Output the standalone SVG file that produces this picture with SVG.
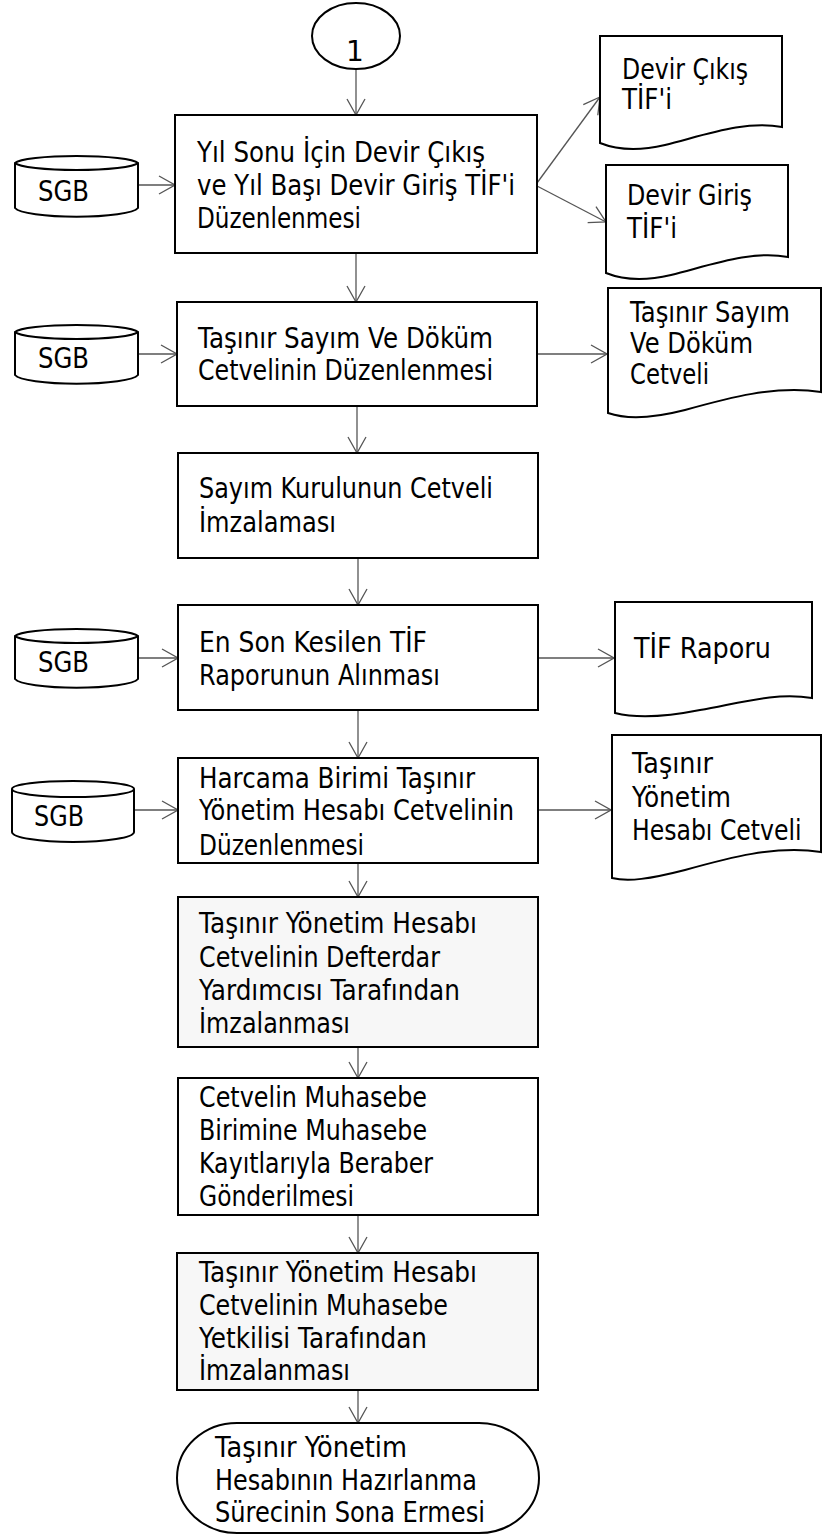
<svg xmlns="http://www.w3.org/2000/svg" width="822" height="1535" viewBox="0 0 822 1535">
<style>
.shape{fill:#ffffff;stroke:#000000;stroke-width:2}
.shade{fill:#f7f7f7;stroke:#000000;stroke-width:2}
.t{font-family:"DejaVu Sans","Liberation Sans",sans-serif;font-size:28px;fill:#000000}
.c{fill:none;stroke:#555555;stroke-width:1.3}
</style>
<defs>
<marker id="ah" viewBox="0 0 18 20" refX="17" refY="10" markerWidth="18" markerHeight="20" markerUnits="userSpaceOnUse" orient="auto">
<path d="M1,1 L17,10 L1,19" fill="none" stroke="#555555" stroke-width="1.3"/>
</marker>
</defs>
<rect width="822" height="1535" fill="#ffffff"/>

<g id="connectors">
<line class="c" x1="356" y1="69" x2="356" y2="115" marker-end="url(#ah)"/>
<line class="c" x1="356" y1="253" x2="356" y2="302" marker-end="url(#ah)"/>
<line class="c" x1="357" y1="406" x2="357" y2="453" marker-end="url(#ah)"/>
<line class="c" x1="358" y1="558" x2="358" y2="605" marker-end="url(#ah)"/>
<line class="c" x1="358" y1="710" x2="358" y2="758" marker-end="url(#ah)"/>
<line class="c" x1="358" y1="863" x2="358" y2="897" marker-end="url(#ah)"/>
<line class="c" x1="358" y1="1047" x2="358" y2="1078" marker-end="url(#ah)"/>
<line class="c" x1="358" y1="1215" x2="358" y2="1253" marker-end="url(#ah)"/>
<line class="c" x1="358" y1="1390" x2="358" y2="1423" marker-end="url(#ah)"/>
<line class="c" x1="138" y1="185" x2="175" y2="185" marker-end="url(#ah)"/>
<line class="c" x1="138" y1="354" x2="177" y2="354" marker-end="url(#ah)"/>
<line class="c" x1="138" y1="658" x2="178" y2="658" marker-end="url(#ah)"/>
<line class="c" x1="134" y1="810" x2="178" y2="810" marker-end="url(#ah)"/>
<line class="c" x1="537" y1="183" x2="600" y2="97" marker-end="url(#ah)"/>
<line class="c" x1="537" y1="186" x2="606" y2="222" marker-end="url(#ah)"/>
<line class="c" x1="537" y1="354" x2="607" y2="354" marker-end="url(#ah)"/>
<line class="c" x1="538" y1="658" x2="614" y2="658" marker-end="url(#ah)"/>
<line class="c" x1="538" y1="810" x2="611" y2="810" marker-end="url(#ah)"/>
</g>

<g id="start">
<ellipse class="shape" cx="356" cy="36" rx="44" ry="33"/>
<text class="t" x="355" y="61" text-anchor="middle" font-size="22">1</text>
</g>

<g id="box1">
<rect class="shape" x="175" y="115" width="362" height="138"/>
<text class="t" x="197" y="162" textLength="288" lengthAdjust="spacingAndGlyphs">Yıl Sonu İçin Devir Çıkış</text>
<text class="t" x="197" y="195" textLength="318" lengthAdjust="spacingAndGlyphs">ve Yıl Başı Devir Giriş TİF'i</text>
<text class="t" x="197" y="228" textLength="164" lengthAdjust="spacingAndGlyphs">Düzenlenmesi</text>
</g>

<g id="sgb1">
<path class="shape" d="M15,163 A62,8 0 0 1 138,163 V208 A62,10 0 0 1 15,208 Z"/>
<path class="shape" d="M15,163 A62,8 0 0 0 138,163" fill="none"/>
<text class="t" x="38" y="201" textLength="51" lengthAdjust="spacingAndGlyphs">SGB</text>
</g>

<g id="doc1">
<path class="shape" d="M600,36 H782 V127 C745,120 705,135 665,145 C635,152 615,149 600,143 Z"/>
<text class="t" x="622" y="79" textLength="126" lengthAdjust="spacingAndGlyphs">Devir Çıkış</text>
<text class="t" x="622" y="109" textLength="50" lengthAdjust="spacingAndGlyphs">TİF'i</text>
</g>

<g id="doc2">
<path class="shape" d="M606,165 H788 V257 C751,250 711,265 671,275 C641,282 621,279 606,273 Z"/>
<text class="t" x="627" y="205" textLength="125" lengthAdjust="spacingAndGlyphs">Devir Giriş</text>
<text class="t" x="627" y="238" textLength="50" lengthAdjust="spacingAndGlyphs">TİF'i</text>
</g>

<g id="box2">
<rect class="shape" x="177" y="302" width="360" height="104"/>
<text class="t" x="198" y="348" textLength="295" lengthAdjust="spacingAndGlyphs">Taşınır Sayım Ve Döküm</text>
<text class="t" x="198" y="380" textLength="295" lengthAdjust="spacingAndGlyphs">Cetvelinin Düzenlenmesi</text>
</g>

<g id="sgb2">
<path class="shape" d="M15,332 A62,8 0 0 1 138,332 V375 A62,10 0 0 1 15,375 Z"/>
<path class="shape" d="M15,332 A62,8 0 0 0 138,332" fill="none"/>
<text class="t" x="38" y="368" textLength="51" lengthAdjust="spacingAndGlyphs">SGB</text>
</g>

<g id="doc3">
<path class="shape" d="M608,288 H821 V392 C775,385 728,398 685,410 C650,419 625,419 608,413 Z"/>
<text class="t" transform="translate(630,322) scale(0.8,1)" x="0" y="0" textLength="200" lengthAdjust="spacingAndGlyphs">Taşınır Sayım</text>
<text class="t" x="630" y="353" textLength="123" lengthAdjust="spacingAndGlyphs">Ve Döküm</text>
<text class="t" x="630" y="384" textLength="79" lengthAdjust="spacingAndGlyphs">Cetveli</text>
</g>

<g id="box3">
<rect class="shape" x="178" y="453" width="360" height="105"/>
<text class="t" x="199" y="498" textLength="294" lengthAdjust="spacingAndGlyphs">Sayım Kurulunun Cetveli</text>
<text class="t" x="199" y="532" textLength="137" lengthAdjust="spacingAndGlyphs">İmzalaması</text>
</g>

<g id="box4">
<rect class="shape" x="178" y="605" width="360" height="105"/>
<text class="t" x="199" y="652" textLength="228" lengthAdjust="spacingAndGlyphs">En Son Kesilen TİF</text>
<text class="t" x="199" y="685" textLength="241" lengthAdjust="spacingAndGlyphs">Raporunun Alınması</text>
</g>

<g id="sgb3">
<path class="shape" d="M15,636 A62,8 0 0 1 138,636 V679 A62,10 0 0 1 15,679 Z"/>
<path class="shape" d="M15,636 A62,8 0 0 0 138,636" fill="none"/>
<text class="t" x="38" y="672" textLength="51" lengthAdjust="spacingAndGlyphs">SGB</text>
</g>

<g id="doc4">
<path class="shape" d="M615,602 H812 V698 C775,692 740,703 700,710 C665,717 635,718 615,713 Z"/>
<text class="t" x="634" y="658" textLength="137" lengthAdjust="spacingAndGlyphs">TİF Raporu</text>
</g>

<g id="box5">
<rect class="shape" x="178" y="758" width="360" height="105"/>
<text class="t" x="199" y="788" textLength="276" lengthAdjust="spacingAndGlyphs">Harcama Birimi Taşınır</text>
<text class="t" x="199" y="820" textLength="315" lengthAdjust="spacingAndGlyphs">Yönetim Hesabı Cetvelinin</text>
<text class="t" x="199" y="855" textLength="165" lengthAdjust="spacingAndGlyphs">Düzenlenmesi</text>
</g>

<g id="sgb4">
<path class="shape" d="M12,789 A61,8 0 0 1 134,789 V832 A61,10 0 0 1 12,832 Z"/>
<path class="shape" d="M12,789 A61,8 0 0 0 134,789" fill="none"/>
<text class="t" x="34" y="826" textLength="50" lengthAdjust="spacingAndGlyphs">SGB</text>
</g>

<g id="doc5">
<path class="shape" d="M612,735 H821 V852 C775,845 728,858 685,870 C650,879 628,882 612,878 Z"/>
<text class="t" x="632" y="773" textLength="81" lengthAdjust="spacingAndGlyphs">Taşınır</text>
<text class="t" x="632" y="807" textLength="99" lengthAdjust="spacingAndGlyphs">Yönetim</text>
<text class="t" transform="translate(632,840) scale(0.8,1)" x="0" y="0" textLength="212" lengthAdjust="spacingAndGlyphs">Hesabı Cetveli</text>
</g>

<g id="box6">
<rect class="shade" x="178" y="897" width="360" height="150"/>
<text class="t" x="199" y="933" textLength="278" lengthAdjust="spacingAndGlyphs">Taşınır Yönetim Hesabı</text>
<text class="t" x="199" y="967" textLength="241" lengthAdjust="spacingAndGlyphs">Cetvelinin Defterdar</text>
<text class="t" x="199" y="1000" textLength="261" lengthAdjust="spacingAndGlyphs">Yardımcısı Tarafından</text>
<text class="t" x="199" y="1033" textLength="151" lengthAdjust="spacingAndGlyphs">İmzalanması</text>
</g>

<g id="box7">
<rect class="shape" x="178" y="1078" width="360" height="137"/>
<text class="t" x="199" y="1107" textLength="228" lengthAdjust="spacingAndGlyphs">Cetvelin Muhasebe</text>
<text class="t" x="199" y="1140" textLength="228" lengthAdjust="spacingAndGlyphs">Birimine Muhasebe</text>
<text class="t" x="199" y="1173" textLength="234" lengthAdjust="spacingAndGlyphs">Kayıtlarıyla Beraber</text>
<text class="t" x="199" y="1206" textLength="155" lengthAdjust="spacingAndGlyphs">Gönderilmesi</text>
</g>

<g id="box8">
<rect class="shade" x="177" y="1253" width="361" height="137"/>
<text class="t" x="199" y="1282" textLength="278" lengthAdjust="spacingAndGlyphs">Taşınır Yönetim Hesabı</text>
<text class="t" x="199" y="1315" textLength="249" lengthAdjust="spacingAndGlyphs">Cetvelinin Muhasebe</text>
<text class="t" x="199" y="1348" textLength="228" lengthAdjust="spacingAndGlyphs">Yetkilisi Tarafından</text>
<text class="t" x="199" y="1380" textLength="151" lengthAdjust="spacingAndGlyphs">İmzalanması</text>
</g>

<g id="end">
<rect class="shape" x="177" y="1423" width="362" height="110" rx="60" ry="55"/>
<text class="t" x="215" y="1457" textLength="192" lengthAdjust="spacingAndGlyphs">Taşınır Yönetim</text>
<text class="t" x="215" y="1490" textLength="262" lengthAdjust="spacingAndGlyphs">Hesabının Hazırlanma</text>
<text class="t" x="215" y="1522" textLength="270" lengthAdjust="spacingAndGlyphs">Sürecinin Sona Ermesi</text>
</g>
</svg>
